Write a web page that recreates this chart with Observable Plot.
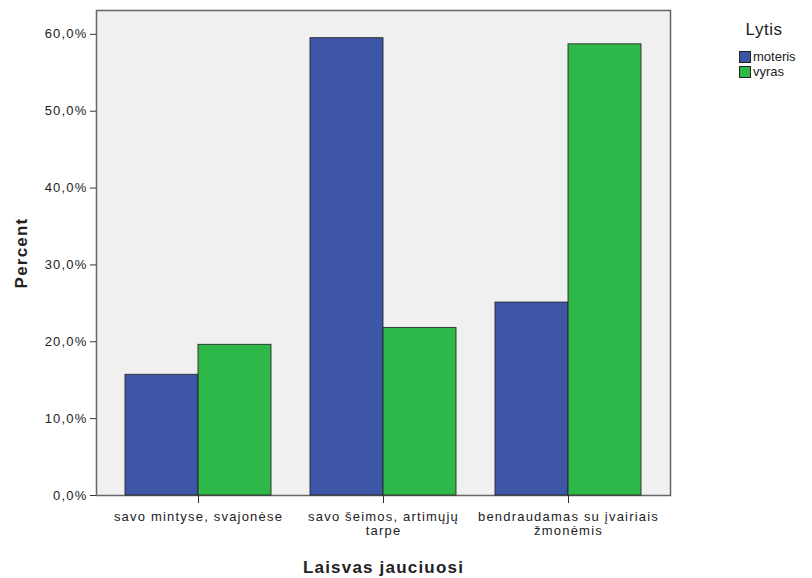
<!DOCTYPE html>
<html>
<head>
<meta charset="utf-8">
<script src="https://cdn.jsdelivr.net/npm/d3@7"></script>
<script src="https://cdn.jsdelivr.net/npm/@observablehq/plot@0.6"></script>
<style>
  body { margin: 0; background: #fff; }
  #wrap { position: relative; width: 812px; height: 578px; font-family: "Liberation Sans", Arial, sans-serif; }
  #bg, #chart { position: absolute; left: 0; top: 0; }
  #wrap svg { display: block; font-family: "Liberation Sans", Arial, sans-serif; }
  #wrap svg text { letter-spacing: 1.2px; fill: #222; }
  g[aria-label="y-axis label"] text, g[aria-label="fx-axis label"] text { font-weight: bold; font-size: 17px; letter-spacing: 2.6px; fill: #111; }
  #legend { position: absolute; left: 739px; top: 20px; color: #222; }
  #legend .title { font-size: 17px; width: 50px; text-align: center; margin-bottom: 9px; letter-spacing: 0.5px; }
  #legend .row { display: flex; align-items: center; height: 15px; font-size: 13px; }
  #legend .sw { width: 12px; height: 12px; border: 1px solid #222; box-sizing: border-box; margin-right: 2px; }
</style>
</head>
<body>
<div id="wrap">
  <div id="bg"></div>
  <div id="chart"></div>
  <div id="legend"></div>
</div>
<script>
const categories = ["savo mintyse, svajonėse", "savo šeimos, artimųjų tarpe", "bendraudamas su įvairiais žmonėmis"];
const tickLabels = ["savo mintyse, svajonėse", "savo šeimos, artimųjų\ntarpe", "bendraudamas su įvairiais\nžmonėmis"];
const genders = ["moteris", "vyras"];
const genderColors = ["#3d56a8", "#2fb84a"];
const moterisValues = [15.7, 59.5, 25.1];
const vyrasValues = [19.6, 21.8, 58.7];
const yTicks = [0, 10, 20, 30, 40, 50, 60];
const yDomain = [0, 63.1];
const legendTitle = "Lytis";
const xTitle = "Laisvas jauciuosi";
const yTitle = "Percent";

const data = [];
categories.forEach((c, i) => {
  data.push({category: c, gender: genders[0], value: moterisValues[i]});
  data.push({category: c, gender: genders[1], value: vyrasValues[i]});
});

const fmt = d => d.toFixed(1).replace(".", ",") + "%";

const dims = {width: 812, height: 578, marginTop: 10, marginBottom: 83, marginLeft: 96, marginRight: 142};

// background panel + y axis (unfaceted, spans the whole plot area)
const bg = Plot.plot({
  ...dims,
  style: {fontSize: "13px", background: "transparent"},
  y: {domain: yDomain},
  marks: [
    Plot.frame({fill: "#f0f0f0", stroke: "#666", strokeWidth: 1.5}),
    Plot.axisY({ticks: yTicks, tickFormat: fmt, tickSize: 6, tickPadding: 3, stroke: "#333", fontSize: 13,
      label: yTitle, labelArrow: "none", labelAnchor: "center", labelOffset: 82})
  ]
});
document.getElementById("bg").appendChild(bg);

// grouped bars
const chart = Plot.plot({
  ...dims,
  style: {fontSize: "13px", background: "transparent"},
  fx: {domain: categories, paddingInner: 0.21, paddingOuter: 0.15},
  x: {domain: genders, padding: 0, axis: null},
  y: {domain: yDomain, axis: null},
  color: {domain: genders, range: genderColors},
  marks: [
    Plot.barY(data, {fx: "category", x: "gender", y: "value", fill: "gender", stroke: "#222", strokeOpacity: 0.85, strokeWidth: 1}),
    Plot.axisFx({anchor: "bottom", tickFormat: d => tickLabels[categories.indexOf(d)], tickSize: 8, tickPadding: 7,
      stroke: "#333", fontSize: 13, lineHeight: 1.12, label: xTitle, labelArrow: "none", labelAnchor: "center", labelOffset: 77})
  ]
});
document.getElementById("chart").appendChild(chart);

const legend = document.getElementById("legend");
const t = document.createElement("div");
t.className = "title";
t.textContent = legendTitle;
legend.appendChild(t);
genders.forEach((g, i) => {
  const row = document.createElement("div");
  row.className = "row";
  const sw = document.createElement("div");
  sw.className = "sw";
  sw.style.background = genderColors[i];
  const lab = document.createElement("span");
  lab.textContent = g;
  row.appendChild(sw);
  row.appendChild(lab);
  legend.appendChild(row);
});
</script>
</body>
</html>
